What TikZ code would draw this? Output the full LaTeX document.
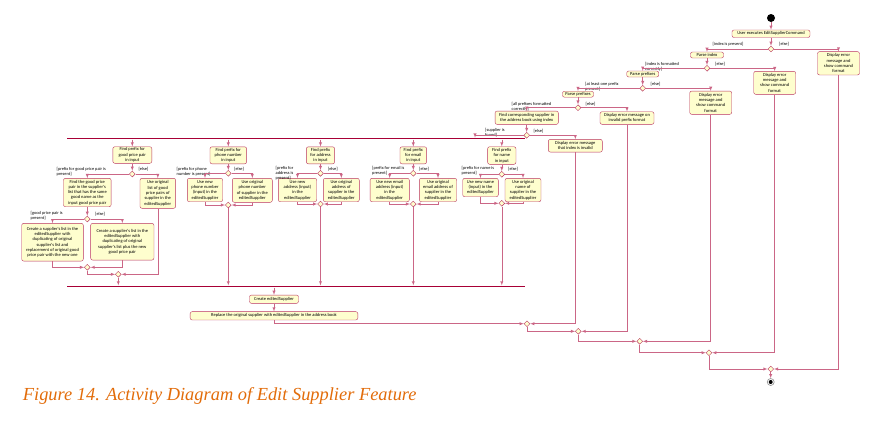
\documentclass[tikz,border=0pt]{standalone}
\usepackage{fontspec}
\setmainfont{Liberation Serif}
\newfontfamily\umlfont{Carlito}
\usetikzlibrary{shapes.geometric}
\definecolor{umlred}{RGB}{168,0,54}
\definecolor{umlfill}{RGB}{254,254,206}
\definecolor{capcol}{RGB}{226,108,10}
\tikzset{
  act/.style={draw=umlred!80, fill=umlfill, rounded corners=2pt, line width=0.4pt, align=center, inner sep=0.5pt, font=\umlfont\fontsize{4.5}{5.3}\selectfont},
  dec/.style={diamond, draw=umlred!80, fill=umlfill, line width=0.4pt, minimum size=6pt, inner sep=0pt},
  bar/.style={fill=umlred, inner sep=0pt, minimum height=1.8pt},
  guard/.style={anchor=north west, align=left, inner sep=0pt, font=\umlfont\fontsize{4.4}{5}\selectfont},
  flow/.style={draw=umlred!60, line width=0.45pt, >=latex, ->}
}
\begin{document}
\begin{tikzpicture}[x=1pt,y=-1pt]
\useasboundingbox (0,0) rectangle (871,421);
% start and first checks
\node[circle, fill=black, minimum size=8pt, inner sep=0pt] (start) at (771,18) {};
\node[act, minimum width=78pt, minimum height=7.5pt] (cmd) at (771,33.7) {User executes EditSupplierCommand};
\node[dec] (d1) at (771,49) {};
\node[act, minimum width=33pt, minimum height=6pt] (pidx) at (707,55) {Parse index};
\node[act, minimum width=42pt, minimum height=23.3pt] (err1) at (838.5,63.3) {Display error\\message and\\show command\\format};
\node[dec] (d2) at (707,68.3) {};
\node[act, minimum width=32pt, minimum height=6pt] (ppre1) at (642.7,74) {Parse prefixes};
\node[act, minimum width=42pt, minimum height=23pt] (err2) at (774.7,82.8) {Display error\\message and\\show command\\format};
\node[dec] (d3) at (642.7,88.3) {};
\node[act, minimum width=31pt, minimum height=6pt] (ppre2) at (578,94.2) {Parse prefixes};
\node[act, minimum width=42pt, minimum height=23.3pt] (err3) at (710.7,102.7) {Display error\\message and\\show command\\format};
\node[dec] (d4) at (578,107.7) {};
\node[act, minimum width=63.3pt, minimum height=13.3pt] (find) at (526.7,117.7) {Find corresponding  supplier in\\the address book using index};
\node[act, minimum width=54pt, minimum height=12.6pt] (err4) at (627,118) {Display error message on\\invalid prefix format};
\node[dec] (d5) at (526.7,135.3) {};
\node[act, minimum width=54pt, minimum height=12.7pt] (err5) at (575.3,145.7) {Display error message\\that index is invalid};
\node[guard] (g1) at (712.5,42) {[index is present]};
\node[guard] (g2) at (779,42) {[else]};
\node[guard] (g3) at (645,62) {[index is formatted\\correctly]};
\node[guard] (g4) at (715,62) {[else]};
\node[guard] (g5) at (585,82) {[at least one prefix\\present]};
\node[guard] (g6) at (650.5,82) {[else]};
\node[guard] (g7) at (511.5,102) {[all prefixes formatted\\correctly]};
\node[guard] (g8) at (585.5,102.5) {[else]};
\node[guard] (g9) at (485,128.5) {[supplier is\\found]};
\node[guard] (g10) at (533.3,129.5) {[else]};
% fork and join
\node[bar, minimum width=458pt] (fork) at (296,138.5) {};
\coordinate (forkin) at (475,137.6);
\node[bar, minimum width=458pt] (join) at (296,286.5) {};
% good price pair
\node[act, minimum width=39pt, minimum height=16.6pt] (fgp) at (132.3,155) {Find prefix for\\good price pair\\in input};
\node[dec] (dg) at (132.3,174) {};
\node[act, minimum width=47.7pt, minimum height=28.4pt] (fgpair) at (87.3,192.5) {Find the good price\\pair in the supplier's\\list that has the same\\good name as the\\input good price pair};
\node[act, minimum width=35.7pt, minimum height=30pt] (uogp) at (157.8,193.3) {Use original\\list of good\\price pairs of\\supplier in the\\editedSupplier};
\node[dec] (dgi) at (87.3,219) {};
\node[act, minimum width=61.6pt, minimum height=37.7pt] (crep) at (52.5,242.2) {Create a supplier's list in the\\editedSupplier with\\duplicating of original\\supplier's list and\\replacement of original good\\price pair with the new one};
\node[act, minimum width=63.3pt, minimum height=36.7pt] (cplus) at (122.3,241.7) {Create a supplier's list in the\\editedSupplier with\\duplicating of original\\supplier's list plus the new\\good price pair};
\node[dec] (mgi) at (87.3,267.3) {};
\node[dec] (mg) at (118.3,274.3) {};
\node[guard] (g11) at (56.5,167.5) {[prefix for good price pair is\\present]};
\node[guard] (g12) at (138.3,167.5) {[else]};
\node[guard] (g13) at (30.5,211.5) {[good price pair is\\present]};
\node[guard] (g14) at (95,212) {[else]};
% phone
\node[act, minimum width=36.7pt, minimum height=17pt] (fph) at (228.3,155.3) {Find prefix for\\phone number\\in input};
\node[dec] (dph) at (228.3,173.3) {};
\node[act, minimum width=35.4pt, minimum height=23.4pt] (unph) at (205,190) {Use new\\phone number\\(input) in the\\editedSupplier};
\node[act, minimum width=40pt, minimum height=24pt] (uoph) at (252.3,190.3) {Use original\\phone number\\of supplier in the\\editedSupplier};
\node[dec] (mph) at (228.3,205) {};
\node[guard] (g15) at (176.5,167.5) {[prefix for phone\\number is present]};
\node[guard] (g16) at (234,167.5) {[else]};
% address
\node[act, minimum width=28.3pt, minimum height=17pt] (fad) at (320.5,155.3) {Find prefix\\for address\\in input};
\node[dec] (dad) at (320.5,173.3) {};
\node[act, minimum width=38.4pt, minimum height=23.4pt] (unad) at (297.5,190) {Use new\\address (input)\\in the\\editedSupplier};
\node[act, minimum width=36pt, minimum height=23.4pt] (uoad) at (341.3,190) {Use original\\address of\\supplier in the\\editedSupplier};
\node[dec] (mad) at (320.5,204) {};
\node[guard] (g17) at (275.5,166.5) {[prefix for\\address is\\present]};
\node[guard] (g18) at (327.7,167.5) {[else]};
% email
\node[act, minimum width=26.7pt, minimum height=17pt] (fem) at (413.3,155.3) {Find prefix\\for email\\in input};
\node[dec] (dem) at (413.3,173.3) {};
\node[act, minimum width=39.3pt, minimum height=23.4pt] (unem) at (389.7,190) {Use new email\\address (input)\\in the\\editedSupplier};
\node[act, minimum width=37.4pt, minimum height=23.4pt] (uoem) at (438,190) {Use original\\email address of\\supplier in the\\editedSupplier};
\node[dec] (mem) at (413.3,204) {};
\node[guard] (g19) at (372,166.5) {[prefix for email is\\present]};
\node[guard] (g20) at (419,167.5) {[else]};
% name
\node[act, minimum width=28.3pt, minimum height=17.6pt] (fnm) at (501.8,155.5) {Find prefix\\for name\\in input};
\node[dec] (dnm) at (501.8,174.3) {};
\node[act, minimum width=35.6pt, minimum height=18.4pt] (unnm) at (480.5,187.5) {Use new name\\(input)  in the\\editedSupplier};
\node[act, minimum width=36pt, minimum height=23.4pt] (uonm) at (523,190) {Use original\\name of\\supplier in the\\editedSupplier};
\node[dec] (mnm) at (501.8,203.3) {};
\node[guard] (g21) at (461.5,166.5) {[prefix for name is\\present]};
\node[guard] (g22) at (508,167.5) {[else]};
% after join
\node[act, minimum width=49pt, minimum height=8.3pt] (create) at (274,299.2) {Create editedSupplier};
\node[act, minimum width=167.7pt, minimum height=8.3pt] (replace) at (274,315.8) {Replace the original supplier with editedSupplier in the address book};
\node[dec] (m5) at (527,323.7) {};
\node[dec] (m4) at (578.3,331.3) {};
\node[dec] (m3) at (639.7,341.3) {};
\node[dec] (m2) at (709,352.7) {};
\node[dec] (m1) at (770.7,369) {};
\node[circle, draw=black!45, fill=white, line width=0.6pt, minimum size=7pt, inner sep=0pt] (stop) at (770.7,382) {};
\fill (stop) circle (2pt);
% connectors
\draw[flow] (start) -- (cmd);
\draw[flow] (cmd) -- (d1);
\draw[flow] (d1.west) -| (pidx.north);
\draw[flow] (d1.east) -| (err1.north);
\draw[flow] (pidx) -- (d2);
\draw[flow] (d2.west) -| (ppre1.north);
\draw[flow] (d2.east) -| (err2.north);
\draw[flow] (ppre1) -- (d3);
\draw[flow] (d3.west) -| (ppre2.north);
\draw[flow] (d3.east) -| (err3.north);
\draw[flow] (ppre2) -- (d4);
\draw[flow] (d4.west) -| (find.north);
\draw[flow] (d4.east) -| (err4.north);
\draw[flow] (find) -- (d5);
\draw[flow] (d5.west) -| (forkin);
\draw[flow] (d5.east) -| (err5.north);
\draw[flow] (fork.south -| fgp.north) -- (fgp.north);
\draw[flow] (fgp) -- (dg);
\draw[flow] (dg.west) -| (fgpair.north);
\draw[flow] (dg.east) -| (uogp.north);
\draw[flow] (fgpair) -- (dgi);
\draw[flow] (dgi.west) -| (crep.north);
\draw[flow] (dgi.east) -| (cplus.north);
\draw[flow] (crep.south) |- (mgi.west);
\draw[flow] (cplus.south) |- (mgi.east);
\draw[flow] (mgi.south) |- (mg.west);
\draw[flow] (uogp.south) |- (mg.east);
\draw[flow] (mg) -- (mg |- join.north);
\draw[flow] (fork.south -| fph.north) -- (fph.north);
\draw[flow] (fph) -- (dph);
\draw[flow] (dph.west) -| (unph.north);
\draw[flow] (dph.east) -| (uoph.north);
\draw[flow] (unph.south) |- (mph.west);
\draw[flow] (uoph.south) |- (mph.east);
\draw[flow] (mph) -- (mph |- join.north);
\draw[flow] (fork.south -| fad.north) -- (fad.north);
\draw[flow] (fad) -- (dad);
\draw[flow] (dad.west) -| (unad.north);
\draw[flow] (dad.east) -| (uoad.north);
\draw[flow] (unad.south) |- (mad.west);
\draw[flow] (uoad.south) |- (mad.east);
\draw[flow] (mad) -- (mad |- join.north);
\draw[flow] (fork.south -| fem.north) -- (fem.north);
\draw[flow] (fem) -- (dem);
\draw[flow] (dem.west) -| (unem.north);
\draw[flow] (dem.east) -| (uoem.north);
\draw[flow] (unem.south) |- (mem.west);
\draw[flow] (uoem.south) |- (mem.east);
\draw[flow] (mem) -- (mem |- join.north);
\draw[flow] (fork.south -| fnm.north) -- (fnm.north);
\draw[flow] (fnm) -- (dnm);
\draw[flow] (dnm.west) -| (unnm.north);
\draw[flow] (dnm.east) -| (uonm.north);
\draw[flow] (unnm.south) |- (mnm.west);
\draw[flow] (uonm.south) |- (mnm.east);
\draw[flow] (mnm) -- (mnm |- join.north);
\draw[flow] (join.south -| create.north) -- (create.north);
\draw[flow] (create) -- (replace);
\draw[flow] (replace.south) |- (m5.west);
\draw[flow] (err5.south) |- (m5.east);
\draw[flow] (m5.south) |- (m4.west);
\draw[flow] (err4.south) |- (m4.east);
\draw[flow] (m4.south) |- (m3.west);
\draw[flow] (err3.south) |- (m3.east);
\draw[flow] (m3.south) |- (m2.west);
\draw[flow] (err2.south) |- (m2.east);
\draw[flow] (m2.south) |- (m1.west);
\draw[flow] (err1.south) |- (m1.east);
\draw[flow] (m1) -- (stop);
% caption
\node[anchor=base west, inner sep=0pt, text=capcol, font=\fontsize{18.4}{20}\selectfont\itshape] (caption) at (22.7,400.7) {Figure 14. Activity Diagram of Edit Supplier Feature};
\end{tikzpicture}
\end{document}
